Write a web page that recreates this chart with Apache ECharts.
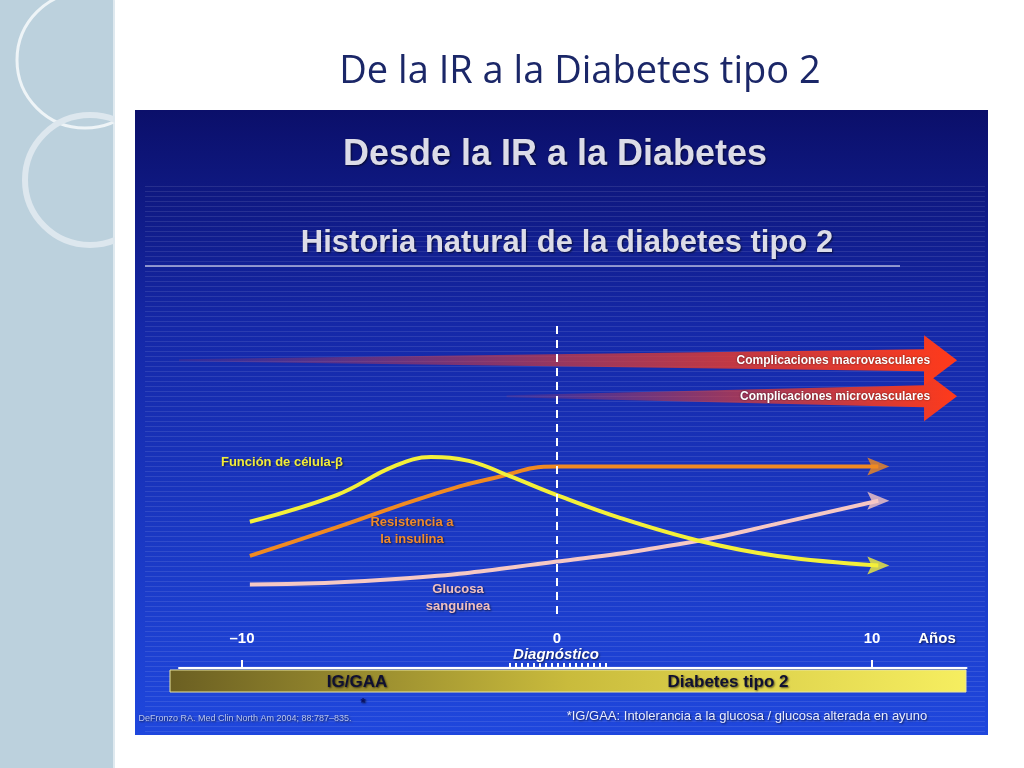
<!DOCTYPE html>
<html lang="es">
<head>
<meta charset="UTF-8" />
<script src="https://cdn.jsdelivr.net/npm/echarts@6/dist/echarts.min.js"></script>
<style>
  html, body { margin: 0; padding: 0; background: #fff; }
  #main { width: 1024px; height: 768px; }
</style>
</head>
<body>
<div id="main"></div>
<script type="text/javascript">
// years on the x axis, relative level on the y axis
var years = [-9.75, -7, -5.2, -4, -2.8, -1.5, 0, 2, 4.5, 7, 10.2];
var betaCell = [57, 71, 86, 91, 89, 81, 71, 59, 47, 39, 34];
var resistYears = [-9.75, -7, -4, -2, 0, 5, 10.2];
var resistance = [39, 54, 71, 80, 86, 86, 86];
var glucYears = [-9.75, -5, 0, 4.5, 7, 10.2];
var glucose = [24, 27, 36, 47, 56, 68];
var tickLabels = ['-10', '0', '10'];
// complication wedges: [start year, end year, level, label]
var complications = [
  [-12, 12.7, 142, 'Complicaciones macrovasculares'],
  [-1.6, 12.7, 123, 'Complicaciones microvasculares']
];

function pairs(xs, ys) { return xs.map(function (x, i) { return [x, ys[i]]; }); }

var chart = echarts.init(document.getElementById('main'));

// decorative background pieces
var bg = [
  { type: 'rect', shape: { x: 0, y: 0, width: 113, height: 768 }, style: { fill: '#bcd1dd' }, z: -10 },
  { type: 'rect', shape: { x: 113, y: 0, width: 2, height: 768 }, style: { fill: '#dfe9ef' }, z: -10 },
  { type: 'circle', shape: { cx: 85, cy: 60, r: 68 }, style: { fill: 'none', stroke: '#eef4f7', lineWidth: 3 }, z: -9 },
  { type: 'circle', shape: { cx: 90, cy: 180, r: 65 }, style: { fill: 'none', stroke: '#dde7ee', lineWidth: 6 }, z: -9 },
  { type: 'rect', shape: { x: 115, y: 0, width: 40, height: 768 }, style: { fill: '#fff' }, z: -8 },
  {
    type: 'rect', shape: { x: 135, y: 110, width: 853, height: 625 }, z: -7,
    style: { fill: new echarts.graphic.LinearGradient(0, 0, 0, 1, [
      { offset: 0, color: '#0b0f6a' }, { offset: 0.35, color: '#1528a8' }, { offset: 1, color: '#1f47dd' }]) }
  }
];
for (var sy = 186; sy < 735; sy += 5) {
  bg.push({ type: 'rect', shape: { x: 145, y: sy, width: 840, height: 1 }, style: { fill: 'rgba(255,255,255,0.10)' }, z: -6 });
}
bg.push({ type: 'rect', shape: { x: 145, y: 265, width: 755, height: 2 }, style: { fill: 'rgba(255,255,255,0.5)' }, z: -5 });
bg.push({
  type: 'rect', shape: { x: 170, y: 670, width: 796, height: 22 }, z: -5,
  style: { stroke: '#e8e4a0', lineWidth: 1, fill: new echarts.graphic.LinearGradient(0, 0, 1, 0, [
    { offset: 0, color: '#6b5f22' }, { offset: 0.5, color: '#c9bb3c' }, { offset: 1, color: '#f6ee60' }]) }
});
for (var dx = 509; dx < 608; dx += 6) {
  bg.push({ type: 'rect', shape: { x: dx, y: 663, width: 2, height: 6 }, style: { fill: '#fff' }, z: -4 });
}

var texts = [
  { text: 'De la IR a la Diabetes tipo 2', x: 580, y: 72, size: 38, color: '#1b2768', weight: 'normal', family: 'Open Sans' },
  { text: 'Desde la IR a la Diabetes', x: 555, y: 155, size: 36, color: '#dcdce8', weight: 'bold' },
  { text: 'Historia natural de la diabetes tipo 2', x: 567, y: 243, size: 31, color: '#dcdce8', weight: 'bold' },
  { text: 'Función de célula-β', x: 282, y: 462, size: 13, color: '#f2ec3a', weight: 'bold' },
  { text: 'Resistencia a\nla insulina', x: 412, y: 531, size: 13, color: '#f08a2a', weight: 'bold' },
  { text: 'Glucosa\nsanguínea', x: 458, y: 598, size: 13, color: '#f0c0c0', weight: 'bold' },
  { text: 'Años', x: 937, y: 639, size: 15, color: '#fff', weight: 'bold' },
  { text: 'Diagnóstico', x: 556, y: 655, size: 15, color: '#fff', weight: 'bold', style: 'italic' },
  { text: 'IG/GAA', x: 357, y: 682, size: 17, color: '#101030', weight: 'bold' },
  { text: 'Diabetes tipo 2', x: 728, y: 682, size: 17, color: '#101030', weight: 'bold' },
  { text: '*', x: 363, y: 703, size: 13, color: '#0a1060', weight: 'bold' },
  { text: 'DeFronzo RA. Med Clin North Am 2004; 88:787–835.', x: 245, y: 719, size: 9, color: '#b8c4f0', weight: 'normal' },
  { text: '*IG/GAA: Intolerancia a la glucosa / glucosa alterada en ayuno', x: 747, y: 716, size: 13, color: '#e8ecff', weight: 'normal' }
];
texts.forEach(function (t) {
  bg.push({
    type: 'text', x: t.x, y: t.y, z: 20,
    style: {
      text: t.text, align: 'center', verticalAlign: 'middle', lineHeight: t.size + 4,
      font: (t.style || 'normal') + ' ' + t.weight + ' ' + t.size + 'px "' + (t.family || 'Liberation Sans') + '"',
      fill: t.color,
      textShadowColor: t.family ? 'transparent' : 'rgba(0,0,0,0.6)', textShadowBlur: 2, textShadowOffsetX: 1, textShadowOffsetY: 1
    }
  });
});

function arrowHead(color, xs, ys) {
  var n = xs.length - 1;
  return {
    type: 'scatter', data: [[xs[n], ys[n]]], symbol: 'path://M0,0 L10,6 L0,12 L2,6 Z',
    symbolSize: [22, 18], itemStyle: { color: color }, z: 5, silent: true
  };
}

var option = {
  animation: false,
  graphic: bg,
  grid: { left: 179, right: 57.5, top: 307, bottom: 100 },
  xAxis: {
    type: 'value', min: -12, max: 13,
    splitLine: { show: false },
    axisLine: { onZero: false, lineStyle: { color: '#fff', width: 2 } },
    axisTick: { inside: true, length: 8, lineStyle: { color: '#fff', width: 2 },
      customValues: [-10, 10] },
    axisLabel: {
      inside: true, margin: 22, color: '#fff', fontWeight: 'bold', fontSize: 15,
      customValues: [-10, 0, 10],
      formatter: function (v) { var i = [-10, 0, 10].indexOf(v); return i < 0 ? '' : tickLabels[i].replace('-', '–'); }
    }
  },
  yAxis: { type: 'value', min: -20, max: 170, show: false },
  series: [
    {
      type: 'custom', z: 2, silent: true,
      data: complications,
      renderItem: function (params, api) {
        var s = api.coord([api.value(0), api.value(2)]);
        var e = api.coord([api.value(1), api.value(2)]);
        var headLen = 33, headH = 25, bodyH = 11;
        var hx = e[0] - headLen;
        return {
          type: 'group',
          children: [
            {
              type: 'polygon',
              shape: { points: [[s[0], s[1] - 1], [hx, s[1] - bodyH], [hx, s[1] - headH], [e[0], s[1]],
                [hx, s[1] + headH], [hx, s[1] + bodyH], [s[0], s[1] + 1]] },
              style: { fill: new echarts.graphic.LinearGradient(0, 0, 1, 0, [
                { offset: 0, color: 'rgba(200,60,80,0.15)' }, { offset: 0.5, color: 'rgba(210,60,60,0.7)' },
                { offset: 1, color: '#ff3a1a' }]) }
            },
            {
              type: 'text', x: hx + 6, y: s[1],
              style: { text: api.value(3), align: 'right', verticalAlign: 'middle',
                font: 'bold 12px "Liberation Sans"', fill: '#fff',
                textShadowColor: 'rgba(0,0,0,0.6)', textShadowBlur: 2 }
            }
          ]
        };
      }
    },
    {
      type: 'line', data: pairs(years, betaCell), smooth: 0.4, showSymbol: false, z: 4,
      lineStyle: { color: '#f4f03a', width: 4 },
      markLine: {
        silent: true, symbol: 'none', label: { show: false },
        lineStyle: { color: '#fff', type: [8, 6], width: 2 },
        data: [[{ coord: [0, 160] }, { coord: [0, 6] }]]
      }
    },
    arrowHead('#f4f03a', years, betaCell),
    {
      type: 'line', data: pairs(resistYears, resistance), smooth: 0.5, showSymbol: false, z: 3,
      lineStyle: { color: '#f08a22', width: 4 }
    },
    arrowHead('#f08a22', resistYears, resistance),
    {
      type: 'line', data: pairs(glucYears, glucose), smooth: 0.5, showSymbol: false, z: 3,
      lineStyle: { color: '#f6c8c4', width: 4 }
    },
    arrowHead('#f6c8c4', glucYears, glucose)
  ]
};
chart.setOption(option);
</script>
</body>
</html>
